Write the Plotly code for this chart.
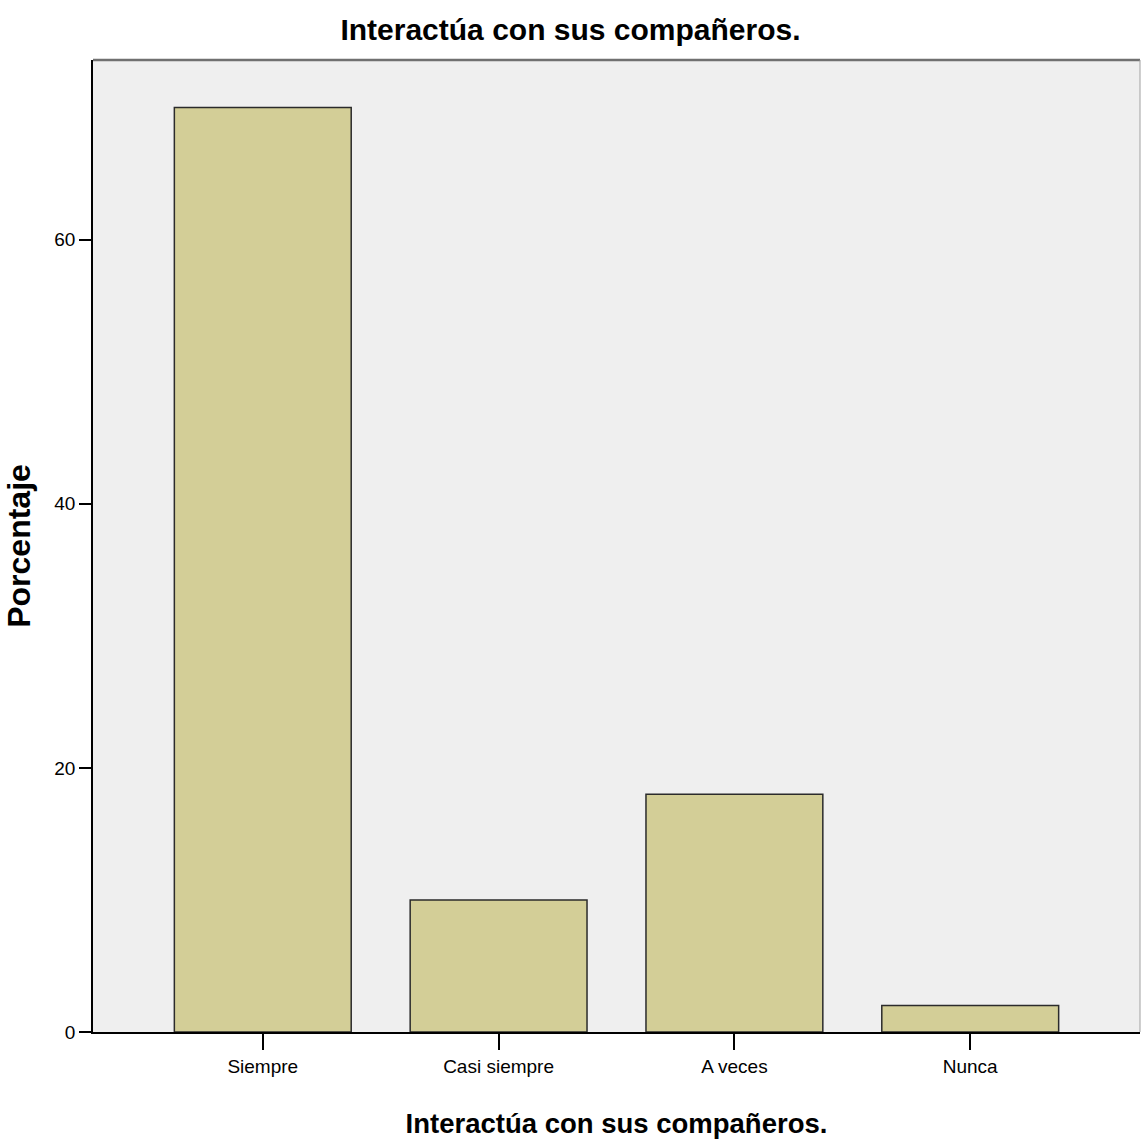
import plotly.graph_objects as go

categories = ["Siempre", "Casi siempre", "A veces", "Nunca"]
percentages = [70, 10, 18, 2]
y_ticks = [0, 20, 40, 60]

title_text = "Interactúa con sus compañeros."
x_title = "Interactúa con sus compañeros."
y_title = "Porcentaje"

sans = "Liberation Sans, Arial, sans-serif"

fig = go.Figure(
    go.Bar(
        x=list(range(len(categories))),
        y=percentages,
        width=0.75,
        marker=dict(color="#D3CE97", line=dict(color="#2b2b2b", width=1.5)),
    )
)

fig.update_layout(
    width=1141,
    height=1140,
    margin=dict(l=93, r=1, t=60, b=108),
    paper_bgcolor="white",
    plot_bgcolor="#EFEFEF",
    showlegend=False,
    title=dict(
        text=title_text,
        x=0.5,
        xref="container",
        xanchor="center",
        y=1 - 29 / 1140,
        yref="container",
        yanchor="middle",
        font=dict(family=sans, size=30, color="black", weight="bold"),
    ),
    xaxis=dict(
        range=[-0.72, 3.72],
        tickmode="array",
        tickvals=list(range(len(categories))),
        ticktext=categories,
        ticks="outside",
        ticklen=16,
        tickwidth=1.5,
        tickcolor="black",
        showline=True,
        linecolor="black",
        linewidth=1.5,
        showgrid=False,
        zeroline=False,
        tickfont=dict(family=sans, size=19, color="black"),
        title=dict(
            text=x_title,
            font=dict(family=sans, size=27.5, color="black", weight="bold"),
            standoff=38,
        ),
    ),
    yaxis=dict(
        range=[0, 73.6],
        tickmode="array",
        tickvals=y_ticks,
        ticks="outside",
        ticklen=12,
        tickwidth=1.5,
        tickcolor="black",
        showline=True,
        linecolor="black",
        linewidth=1.5,
        showgrid=False,
        zeroline=False,
        tickfont=dict(family=sans, size=19, color="black"),
        title=dict(
            text=y_title,
            font=dict(family=sans, size=32, color="black", weight="bold"),
            standoff=14,
        ),
    ),
    shapes=[
        dict(type="line", xref="paper", yref="paper", x0=0, x1=1, y0=1, y1=1,
             line=dict(color="#707070", width=2.5)),
        dict(type="line", xref="paper", yref="paper", x0=1, x1=1, y0=0, y1=1,
             line=dict(color="#A0A0A0", width=1)),
    ],
)

fig.write_html(
    "out.html",
    config={"displayModeBar": False},
    post_script="document.body.style.margin='0';",
)
